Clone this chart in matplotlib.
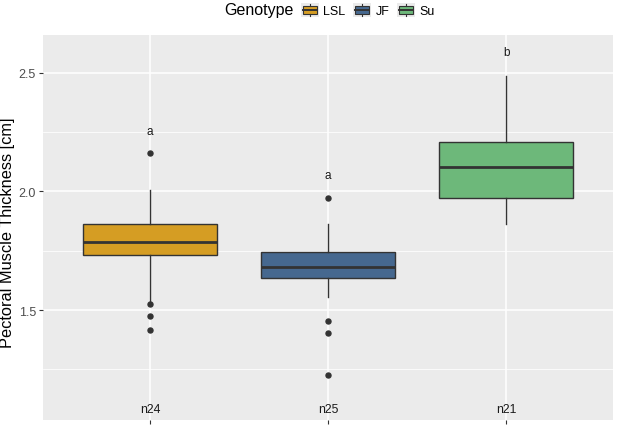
import matplotlib
matplotlib.use("Agg")
import matplotlib.pyplot as plt
from matplotlib.legend_handler import HandlerBase
from matplotlib.patches import Rectangle, Patch
from matplotlib.lines import Line2D

plt.rcParams['font.family'] = ['Liberation Sans', 'DejaVu Sans']

# data
genotypes = ['LSL', 'JF', 'Su']
colors = ['#D59D23', '#46688F', '#6DB87A']
q1 = [1.731, 1.634, 1.971]
med = [1.788, 1.683, 2.102]
q3 = [1.863, 1.743, 2.209]
whis_lo = [1.535, 1.555, 1.863]
whis_hi = [2.008, 1.863, 2.489]
fliers = [[2.161, 1.524, 1.475, 1.416],
          [1.973, 1.454, 1.404, 1.224],
          []]
letters = ['a', 'a', 'b']
letter_y = [2.257, 2.07, 2.587]
n_labels = ['n24', 'n25', 'n21']
n_y = 1.083

stats = []
for i, g in enumerate(genotypes):
    stats.append(dict(med=med[i], q1=q1[i], q3=q3[i], whislo=whis_lo[i],
                      whishi=whis_hi[i], fliers=fliers[i], label=g))

fig = plt.figure(figsize=(6.17, 4.27), dpi=100)
ax = fig.add_axes([43 / 617, 6 / 427, 570 / 617, 385 / 427])
ax.set_facecolor('#EBEBEB')

pos = [1, 2, 3]
bp = ax.bxp(stats, positions=pos, widths=0.75, patch_artist=True, showcaps=False,
            boxprops=dict(edgecolor='#333333', linewidth=1.0),
            medianprops=dict(color='#333333', linewidth=2.0),
            whiskerprops=dict(color='#333333', linewidth=1.0),
            flierprops=dict(marker='o', markerfacecolor='#333333', markeredgecolor='#333333',
                            markersize=3.6, linestyle='none'),
            zorder=3)
for patch, c in zip(bp['boxes'], colors):
    patch.set_facecolor(c)

for x, t, y in zip(pos, letters, letter_y):
    ax.text(x, y, t, ha='center', va='center', fontsize=8.5, color='#1A1A1A', zorder=4)
for x, t in zip(pos, n_labels):
    ax.text(x, n_y, t, ha='center', va='center', fontsize=8.8, color='#1A1A1A', zorder=4)

ax.set_xlim(0.4, 3.6)
ax.set_ylim(1.036, 2.66)
ax.set_yticks([1.5, 2.0, 2.5])
ax.set_yticklabels(['1.5', '2.0', '2.5'])
ax.set_yticks([1.25, 1.75, 2.25], minor=True)
ax.set_xticks(pos)
ax.set_xticklabels(['', '', ''])
ax.grid(which='major', color='white', linewidth=1.1, zorder=0)
ax.grid(which='minor', axis='y', color='white', linewidth=0.55, zorder=0)
ax.set_axisbelow(True)
ax.tick_params(which='major', length=3, width=0.8, color='#333333', labelcolor='#4D4D4D',
               labelsize=9, pad=2)
ax.tick_params(which='minor', length=0)
for s in ax.spines.values():
    s.set_visible(False)
ax.set_ylabel('Pectoral Muscle Thickness [cm]', fontsize=11.8, color='black')
ax.yaxis.set_label_coords(-0.049, 0.49)


class BoxKey(HandlerBase):
    def create_artists(self, legend, orig_handle, xdescent, ydescent, width, height,
                       fontsize, trans):
        x0, y0 = -xdescent, -ydescent
        bg = Rectangle((x0, y0), width, height, facecolor='#EBEBEB', edgecolor='none',
                       transform=trans)
        box = Rectangle((x0 + 0.1 * width, y0 + 0.25 * height), 0.8 * width, 0.5 * height,
                        facecolor=orig_handle.get_facecolor(), edgecolor='#333333',
                        linewidth=0.8, transform=trans)
        cx = x0 + width / 2
        w1 = Line2D([cx, cx], [y0 + 0.05 * height, y0 + 0.25 * height], color='#333333',
                    linewidth=0.8, transform=trans)
        w2 = Line2D([cx, cx], [y0 + 0.75 * height, y0 + 0.95 * height], color='#333333',
                    linewidth=0.8, transform=trans)
        m = Line2D([x0 + 0.1 * width, x0 + 0.9 * width], [y0 + height / 2] * 2,
                   color='#333333', linewidth=1.4, transform=trans)
        return [bg, box, w1, w2, m]


handles = [Patch(facecolor=c) for c in colors]
fig.text(259 / 617, 1 - 11 / 427, 'Genotype', ha='center', va='center', fontsize=11.5)
leg = fig.legend(handles, genotypes, handler_map={Patch: BoxKey()}, ncol=3,
                 loc='center left', bbox_to_anchor=(301 / 617, 1 - 11 / 427),
                 frameon=False, fontsize=9, handlelength=1.4, handleheight=1.4,
                 handletextpad=0.4, columnspacing=0.6, borderpad=0, borderaxespad=0)

fig.savefig('out.png', dpi=100)
